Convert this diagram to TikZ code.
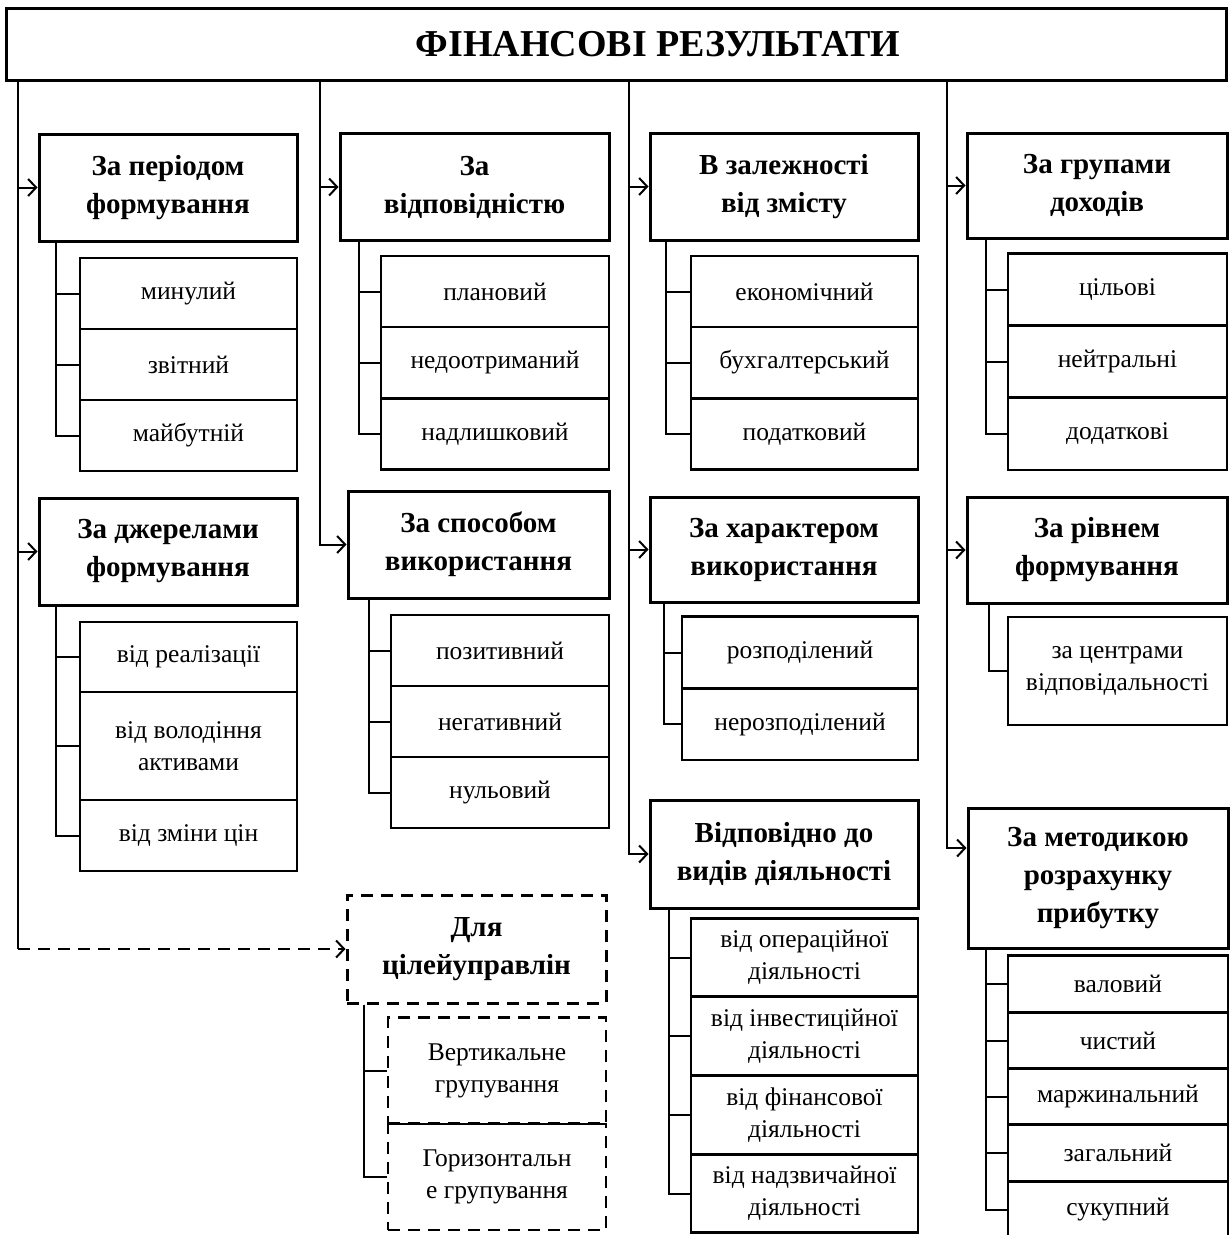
\documentclass[tikz,border=0pt]{standalone}
\usepackage{fontspec}
\setmainfont{Liberation Serif}
\usetikzlibrary{positioning, arrows.meta}

\begin{document}
\begin{tikzpicture}[x=1pt, y=-1pt,
        hd/.style={draw, line width=3pt, align=center, inner sep=0pt,
            font=\bfseries\fontsize{29}{38}\selectfont, minimum width=#1, minimum height=107pt},
        sb/.style={draw, line width=2.6pt, align=center, inner sep=0pt,
            font=\fontsize{25.5}{32}\selectfont, minimum width=#1},
        dsh/.style={dash pattern=on 12pt off 8pt},
        ln/.style={line width=2pt},
        ar/.style={line width=2pt, -{Straight Barb[length=8pt, width=17pt]}}]
    \useasboundingbox (0,0) rectangle (1232,1235);

    \node[draw, line width=3pt, minimum width=1220pt, minimum height=72pt, inner sep=0pt,
        font=\bfseries\fontsize{38}{42}\selectfont] (fin) at (616,44) {\hspace*{84pt}ФІНАНСОВІ РЕЗУЛЬТАТИ};
    \coordinate (t1) at (18,80);
    \coordinate (t2) at (320,80);
    \coordinate (t3) at (629,80);
    \coordinate (t4) at (947,80);

    % first column
    \node[hd=258pt] (per) at (168,187.5) {За періодом\\формування};
    \foreach \t/\y [count=\i] in {минулий/293.5, звітний/364.5, майбутній/435.5}
        \node[sb=217pt, minimum height=71pt] (per\i) at (188.5,\y) {\t};
    \node[hd=258pt] (dzh) at (168,551.5) {За джерелами\\формування};
    \foreach \t/\y/\h [count=\i] in {від реалізації/657/70, {від володіння\\активами}/746/108, від зміни цін/835.5/71}
        \node[sb=217pt, minimum height=\h pt] (dzh\i) at (188.5,\y) {\t};

    % second column
    \node[hd=269pt] (vidp) at (474.5,187) {За\\відповідністю};
    \foreach \t/\y [count=\i] in {плановий/291.5, недоотриманий/362.5, надлишковий/434}
        \node[sb=228pt, minimum height=71pt] (vidp\i) at (495,\y) {\t};
    \node[hd=261pt] (spos) at (478.5,544.5) {За способом\\використання};
    \foreach \t/\y [count=\i] in {позитивний/650.5, негативний/721.5, нульовий/792.5}
        \node[sb=218pt, minimum height=71pt] (spos\i) at (500,\y) {\t};
    \node[hd=259pt, dsh, minimum height=108pt] (cil) at (476.5,949) {Для\\цілейуправлін};
    \foreach \t/\y [count=\i] in {{Вертикальне\\групування}/1070.5, {Горизонтальн\\е групування}/1177}
        \node[sb=218pt, dsh, minimum height=106pt] (cil\i) at (497,\y) {\t};

    % third column
    \node[hd=268pt] (zmist) at (784,186.5) {В залежності\\від змісту};
    \foreach \t/\y [count=\i] in {економічний/291.5, бухгалтерський/362.5, податковий/434}
        \node[sb=227pt, minimum height=71pt] (zmist\i) at (804.5,\y) {\t};
    \node[hd=268pt, minimum height=105pt] (khar) at (784,549.5) {За характером\\використання};
    \foreach \t/\y [count=\i] in {розподілений/652.5, нерозподілений/724}
        \node[sb=236pt, minimum height=72pt] (khar\i) at (800,\y) {\t};
    \node[hd=268pt, minimum height=108pt] (vyd) at (784,854) {Відповідно до\\видів діяльності};
    \foreach \t/\y [count=\i] in {операційної/957.5, інвестиційної/1036, фінансової/1115, надзвичайної/1193.5}
        \node[sb=227pt, minimum height=78pt] (vyd\i) at (804.5,\y) {від \t\\діяльності};

    % fourth column
    \node[hd=260pt, minimum height=105pt] (grup) at (1097,185.5) {За групами\\доходів};
    \foreach \t/\y [count=\i] in {цільові/289.5, нейтральні/361.5, додаткові/434}
        \node[sb=219pt, minimum height=72pt] (grup\i) at (1117.5,\y) {\t};
    \node[hd=260pt, minimum height=106pt] (riv) at (1097,550) {За рівнем\\формування};
    \node[sb=219pt, minimum height=108pt] (riv1) at (1117.5,671) {за центрами\\відповідальності};
    \node[hd=260pt, minimum height=140pt] (met) at (1098,878) {За методикою\\розрахунку\\прибутку};
    \foreach \t/\y [count=\i] in {валовий/984, чистий/1040.5, маржинальний/1096.5, загальний/1153, сукупний/1210}
        \node[sb=220pt, minimum height=56.5pt] (met\i) at (1118,\y) {\t};

    % trunks
    \draw[ar] (t1) |- (per.west);
    \draw[ar] (t1) |- (dzh.west);
    \draw[ln] (t1) -- (t1 |- cil.west) coordinate (t1e);
    \draw[ar, dsh] (t1e) -- (cil.west);
    \draw[ar] (t2) |- (vidp.west);
    \draw[ar] (t2) |- (spos.west);
    \draw[ar] (t3) |- (zmist.west);
    \draw[ar] (t3) |- (khar.west);
    \draw[ar] (t3) |- (vyd.west);
    \draw[ar] (t4) |- (grup.west);
    \draw[ar] (t4) |- (riv.west);
    \draw[ar] (t4) |- ([yshift=30pt]met.west);

    % brackets
    \foreach \i in {1,2,3} {
        \draw[ln] ([xshift=18pt]per.south west) |- (per\i.west);
        \draw[ln] ([xshift=18pt]dzh.south west) |- (dzh\i.west);
        \draw[ln] ([xshift=20pt]vidp.south west) |- (vidp\i.west);
        \draw[ln] ([xshift=22pt]spos.south west) |- (spos\i.west);
        \draw[ln] ([xshift=17pt]zmist.south west) |- (zmist\i.west);
        \draw[ln] ([xshift=20pt]grup.south west) |- (grup\i.west);
    }
    \foreach \i in {1,2} {
        \draw[ln] ([xshift=18pt]cil.south west) |- (cil\i.west);
        \draw[ln] ([xshift=15pt]khar.south west) |- (khar\i.west);
    }
    \foreach \i in {1,...,4}
        \draw[ln] ([xshift=20pt]vyd.south west) |- (vyd\i.west);
    \draw[ln] ([xshift=23pt]riv.south west) |- (riv1.west);
    \foreach \i in {1,...,5}
        \draw[ln] ([xshift=19pt]met.south west) |- (met\i.west);
\end{tikzpicture}
\end{document}
